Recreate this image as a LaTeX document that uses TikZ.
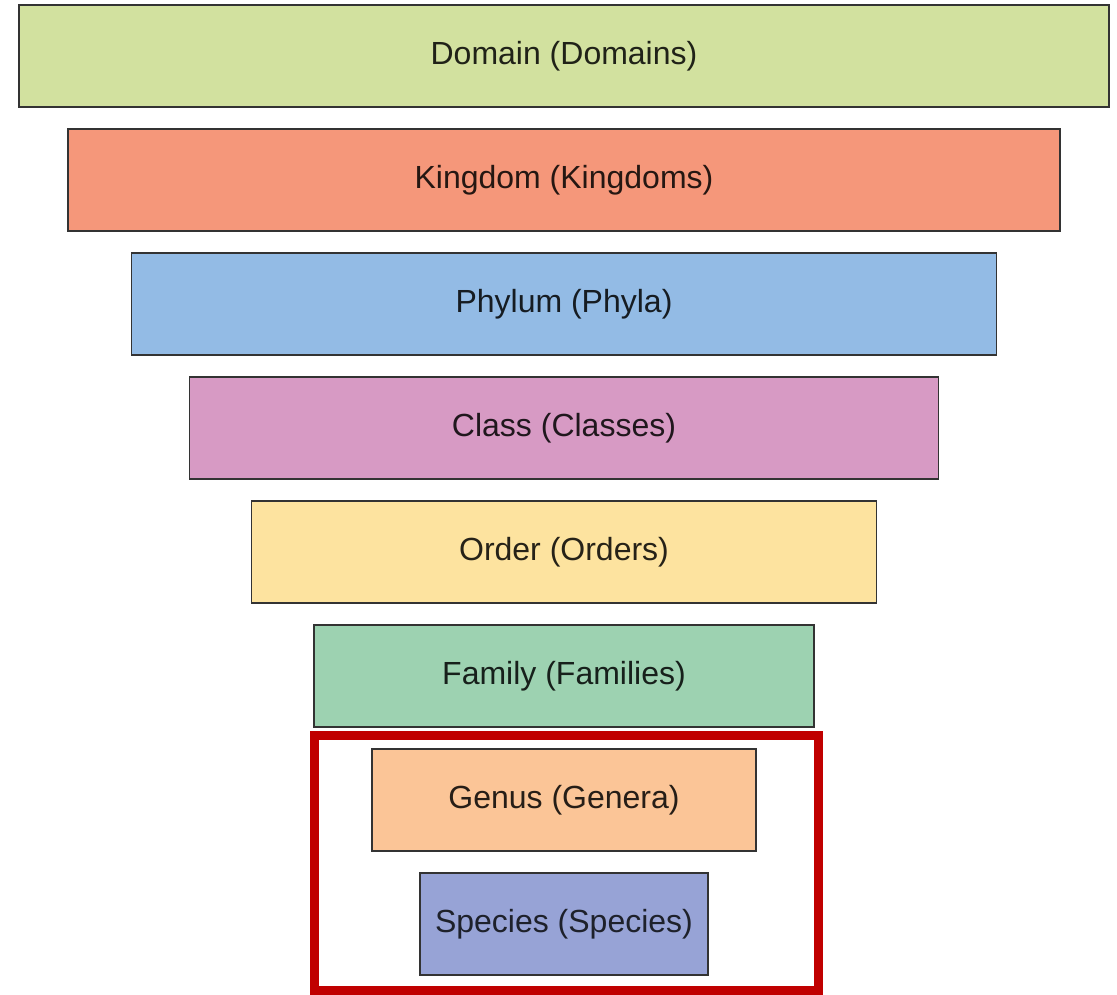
\documentclass[tikz,border=0pt]{standalone}
\usepackage{fontspec}
\setmainfont{Liberation Sans}
\usetikzlibrary{positioning}

\definecolor{domainfill}{HTML}{D2E19F}
\definecolor{kingdomfill}{HTML}{F5977A}
\definecolor{phylumfill}{HTML}{93BBE5}
\definecolor{classfill}{HTML}{D79AC4}
\definecolor{orderfill}{HTML}{FDE39F}
\definecolor{familyfill}{HTML}{9DD2B1}
\definecolor{genusfill}{HTML}{FBC597}
\definecolor{speciesfill}{HTML}{97A3D6}
\definecolor{framered}{HTML}{C00000}

\begin{document}
\begin{tikzpicture}[x=1pt, y=-1pt,
    level/.style={draw=black!80, line width=1.6pt, minimum height=102.4pt, inner sep=0pt, font=\fontsize{32}{36}\selectfont},
    domainbox/.style={level, fill=domainfill, text=domainfill!15!black, minimum width=1090pt},
    kingdombox/.style={level, fill=kingdomfill, text=kingdomfill!15!black, minimum width=992pt},
    phylumbox/.style={level, fill=phylumfill, text=phylumfill!15!black, minimum width=865pt},
    classbox/.style={level, fill=classfill, text=classfill!15!black, minimum width=749pt},
    orderbox/.style={level, fill=orderfill, text=orderfill!15!black, minimum width=625pt},
    familybox/.style={level, fill=familyfill, text=familyfill!15!black, minimum width=500pt},
    genusbox/.style={level, fill=genusfill, text=genusfill!15!black, minimum width=384pt},
    speciesbox/.style={level, fill=speciesfill, text=speciesfill!20!black, minimum width=288pt},
    highlight/.style={draw=framered, line width=9pt},
    node distance=20pt]

\useasboundingbox (0,0) rectangle (1117,994);

% Ranks, widest on top
\node[domainbox] (dom) at (564,56) {Domain (Domains)};
\node[kingdombox, below=of dom] (king) {Kingdom (Kingdoms)};
\node[phylumbox, below=of king] (phyl) {Phylum (Phyla)};
\node[classbox, below=of phyl] (cls) {Class (Classes)};
\node[orderbox, below=of cls] (ord) {Order (Orders)};
\node[familybox, below=of ord] (fam) {Family (Families)};
\node[genusbox, below=of fam] (gen) {Genus (Genera)};
\node[speciesbox, below=of gen] (spec) {Species (Species)};

% Red frame round the two lowest ranks
\coordinate (framecorner) at (gen.east |- spec.south);
\draw[highlight] ([xshift=-57pt, yshift=13pt]gen.north west) rectangle ([xshift=62pt, yshift=-14pt]framecorner);

\end{tikzpicture}
\end{document}
